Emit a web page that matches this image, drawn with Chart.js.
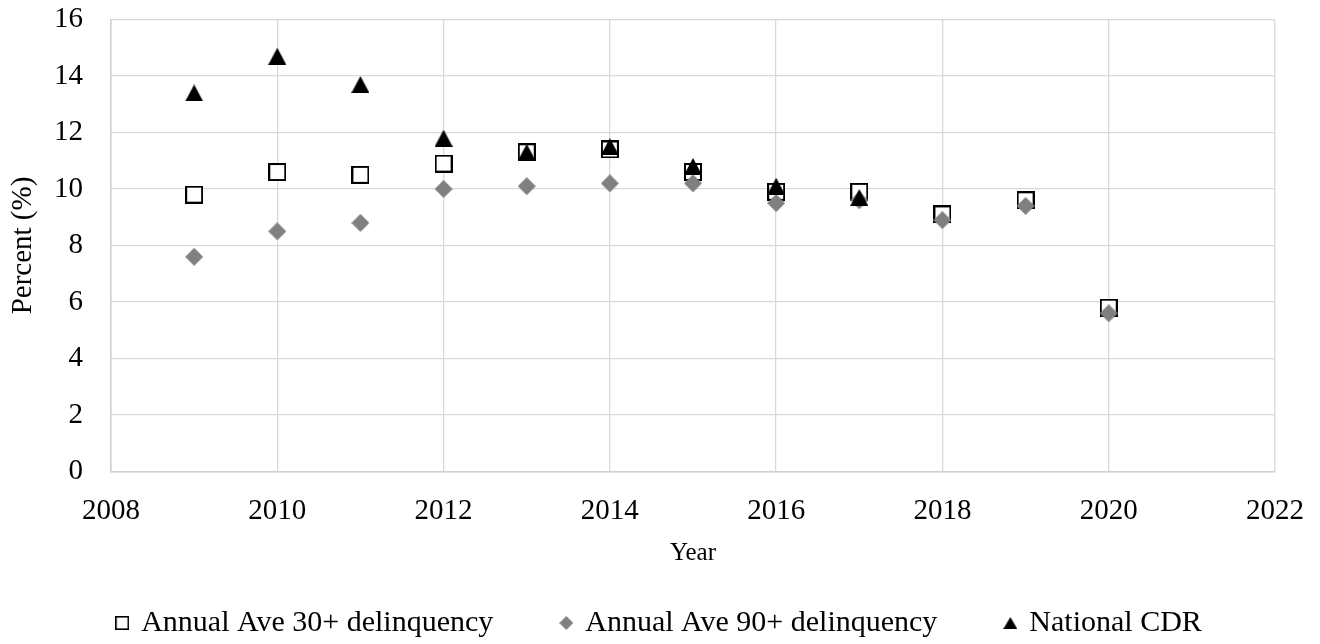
<!DOCTYPE html>
<html>
<head>
<meta charset="utf-8">
<title>Delinquency and CDR</title>
<script src="https://cdn.jsdelivr.net/npm/chart.js@4/dist/chart.umd.min.js"></script>
<style>
  html, body { margin: 0; padding: 0; background: #ffffff; }
  #wrap { width: 1320px; height: 644px; }
</style>
</head>
<body>
<div id="wrap"><canvas id="chart" width="1320" height="644"></canvas></div>
<script>
// Years observed
const years = [2009, 2010, 2011, 2012, 2013, 2014, 2015, 2016, 2017, 2018, 2019, 2020];

// Series values in percent (null = no observation)
const delinq30 = [9.8, 10.6, 10.5, 10.9, 11.3, 11.4, 10.6, 9.9, 9.9, 9.1, 9.6, 5.8];
const delinq90 = [7.6, 8.5, 8.8, 10.0, 10.1, 10.2, 10.2, 9.5, 9.6, 8.9, 9.4, 5.6];
const nationalCdr = [13.4, 14.7, 13.7, 11.8, 11.3, 11.5, 10.8, 10.1, 9.7, null, null, null];

// Series names
const seriesNames = ['Annual Ave 30+ delinquency', 'Annual Ave 90+ delinquency', 'National CDR'];

// Axis tick values
const xTickValues = [2008, 2010, 2012, 2014, 2016, 2018, 2020, 2022];
const yTickValues = [0, 2, 4, 6, 8, 10, 12, 14, 16];

const FONT = "'Liberation Serif', 'Times New Roman', serif";

// Marker glyphs drawn onto small canvases
function makeSquare(size, line) {
  const c = document.createElement('canvas');
  c.width = size; c.height = size;
  const g = c.getContext('2d');
  g.fillStyle = '#ffffff';
  g.fillRect(line / 2, line / 2, size - line, size - line);
  g.strokeStyle = '#000000';
  g.lineWidth = line;
  g.strokeRect(line / 2, line / 2, size - line, size - line);
  return c;
}
function makeDiamond(size, color) {
  const c = document.createElement('canvas');
  c.width = size; c.height = size;
  const g = c.getContext('2d');
  const h = size / 2;
  g.fillStyle = color;
  g.beginPath();
  g.moveTo(h, 0); g.lineTo(size, h); g.lineTo(h, size); g.lineTo(0, h);
  g.closePath();
  g.fill();
  return c;
}
function makeTriangle(w, h, color) {
  const c = document.createElement('canvas');
  c.width = w; c.height = h;
  const g = c.getContext('2d');
  g.fillStyle = color;
  g.beginPath();
  g.moveTo(w / 2, 0); g.lineTo(w, h); g.lineTo(0, h);
  g.closePath();
  g.fill();
  return c;
}

const markers = [makeSquare(18, 2), makeDiamond(18, '#808080'), makeTriangle(18, 17, '#000000')];
const legendMarkers = [makeSquare(14, 1.6), makeDiamond(14, '#808080'), makeTriangle(14, 12, '#000000')];

function toPoints(values) {
  const pts = [];
  years.forEach((yr, i) => { if (values[i] !== null) pts.push({ x: yr, y: values[i] }); });
  return pts;
}

const seriesValues = [delinq30, delinq90, nationalCdr];
const drawOrder = [3, 2, 1];

const datasets = seriesValues.map((vals, i) => ({
  label: seriesNames[i],
  data: toPoints(vals),
  pointStyle: markers[i],
  pointRadius: 9,
  pointHoverRadius: 9,
  showLine: false,
  order: drawOrder[i]
}));

new Chart(document.getElementById('chart'), {
  type: 'scatter',
  data: { datasets },
  options: {
    responsive: false,
    animation: false,
    devicePixelRatio: 1,
    layout: { padding: { left: 0, right: 0, top: 19.5, bottom: -4 } },
    plugins: {
      tooltip: { enabled: false },
      legend: {
        position: 'bottom',
        align: 'center',
        labels: {
          usePointStyle: true,
          pointStyleWidth: 8,
          padding: 69,
          color: '#000000',
          font: { family: FONT, size: 30 },
          generateLabels: (chart) => chart.data.datasets.map((ds, i) => ({
            text: ds.label,
            pointStyle: legendMarkers[i],
            fillStyle: '#000000',
            strokeStyle: '#000000',
            fontColor: '#000000',
            lineWidth: 0,
            hidden: false,
            datasetIndex: i
          }))
        }
      }
    },
    scales: {
      x: {
        type: 'linear',
        min: 2008,
        max: 2022,
        afterBuildTicks: (s) => { s.ticks = xTickValues.map(v => ({ value: v })); },
        afterFit: (s) => {
          s.height = 67.5;
          s.paddingLeft = 0;
          s.paddingRight = 45;
        },
        ticks: {
          color: '#000000',
          padding: 22,
          maxRotation: 0,
          font: { family: FONT, size: 29 },
          callback: (v) => String(v)
        },
        grid: { color: '#d9d9d9', lineWidth: 1.3, drawTicks: false },
        border: { color: '#d0d0d0', width: 1.5 },
        title: {
          display: true,
          text: 'Year',
          color: '#000000',
          font: { family: FONT, size: 25 },
          padding: { top: 0, bottom: -29 }
        }
      },
      y: {
        type: 'linear',
        min: 0,
        max: 16,
        afterBuildTicks: (s) => { s.ticks = yTickValues.map(v => ({ value: v })); },
        afterFit: (s) => {
          s.width = 111;
          s.paddingTop = 0;
          s.paddingBottom = 0;
        },
        ticks: {
          color: '#000000',
          padding: 28,
          font: { family: FONT, size: 29 },
          callback: (v) => String(v)
        },
        grid: { color: '#d9d9d9', lineWidth: 1.3, drawTicks: false },
        border: { color: '#d0d0d0', width: 1.5 },
        title: {
          display: true,
          text: 'Percent (%)',
          color: '#000000',
          font: { family: FONT, size: 29 },
          padding: { top: 5.6, bottom: 0 }
        }
      }
    }
  }
});
</script>
</body>
</html>
